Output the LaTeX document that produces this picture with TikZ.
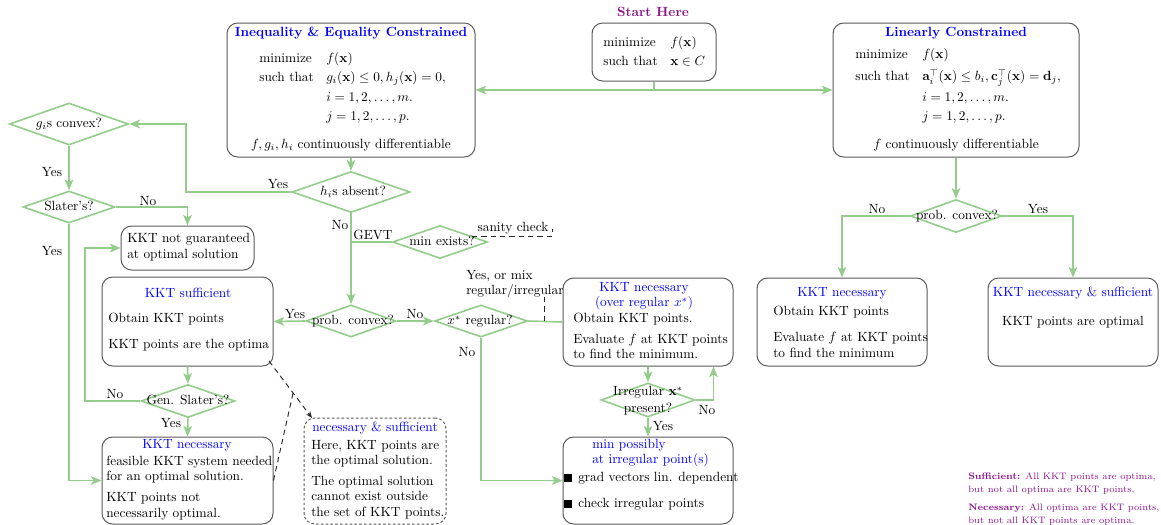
\documentclass[tikz,border=0pt]{standalone}
\usepackage{amsmath,amssymb}
\usetikzlibrary{shapes.geometric,arrows.meta,fit,calc}
\definecolor{lgreen}{RGB}{148,204,140}
\definecolor{leg}{RGB}{140,20,140}
\begin{document}
\begin{tikzpicture}[x=0.75pt,y=-0.75pt,
 box/.style={draw=black!65,line width=0.75pt,rounded corners=8pt,inner sep=0pt},
 dbox/.style={box,dash pattern=on 2pt off 1.6pt},
 dia/.style 2 args={diamond,draw=lgreen,line width=1.2pt,inner sep=0pt,minimum width=#1*0.75pt,minimum height=#2*0.75pt},
 flow/.style={draw=lgreen,line width=1.2pt},
 arr/.style={flow,-{Stealth[length=8pt,width=6.5pt,inset=2pt]}},
 lt/.style={anchor=mid west,inner sep=0pt},
 ct/.style={anchor=mid,inner sep=0pt},
 ttl/.style={ct,text=blue},
 lab/.style={anchor=center,inner sep=0pt},
 dline/.style={draw=black!85,line width=0.7pt,dash pattern=on 4pt off 3pt},
]
\useasboundingbox (0,0) rectangle (1161,525);

% ---- Start
\node[ct,font=\bfseries,text=leg] (sh) at (653,14) {Start Here};
\node[box,fit={(592,23)(716,81)}] (start) {};
\node[lt] (s1) at (603,44) {minimize};
\node[lt] (s2) at (670,44) {$f(\mathbf{x})$};
\node[lt] (s3) at (603,63) {such that};
\node[lt] (s4) at (670,63) {$\mathbf{x}\in C$};

% ---- Inequality box
\node[box,fit={(227,23)(475,157)}] (ineq) {};
\node[ttl,font=\bfseries] (it) at (351,34) {Inequality \& Equality Constrained};
\node[lt] (i1) at (259,60) {minimize};
\node[lt] (i2) at (326,60) {$f(\mathbf{x})$};
\node[lt] (i3) at (259,79) {such that};
\node[lt] (i4) at (326,79) {$g_i(\mathbf{x})\le 0, h_j(\mathbf{x})=0,$};
\node[lt] (i5) at (326,99) {$i=1,2,\ldots,m.$};
\node[lt] (i6) at (326,118) {$j=1,2,\ldots,p.$};
\node[ct] (i7) at (351,146) {$f,g_i,h_i$ continuously differentiable};

% ---- Linear box
\node[box,fit={(833,23)(1079,157)}] (lin) {};
\node[ttl,font=\bfseries] (l0) at (956,34) {Linearly Constrained};
\node[lt] (l1) at (855,56) {minimize};
\node[lt] (l2) at (922,56) {$f(\mathbf{x})$};
\node[lt] (l3) at (855,78) {such that};
\node[lt] (l4) at (922,78) {$\mathbf{a}_i^\top(\mathbf{x})\le b_i,\mathbf{c}_j^\top(\mathbf{x})=\mathbf{d}_j,$};
\node[lt] (l5) at (922,99) {$i=1,2,\ldots,m.$};
\node[lt] (l6) at (922,118) {$j=1,2,\ldots,p.$};
\node[ct] (l7) at (956,146) {$f$ continuously differentiable};

\draw[arr] (start.south) |- (ineq.east);
\draw[arr] (start.south) |- (lin.west);

% ---- Diamonds
\node[dia={119}{42}] (gconv) at (69,124) {};
\node[ct] (gconvT) at (69,125) {$g_i$s convex?};
\node[dia={92}{32}] (slat) at (69,207) {};
\node[ct] (slatT) at (69,208) {Slater's?};
\node[dia={118}{41}] (hab) at (351,192) {};
\node[ct] (habT) at (353,193) {$h_i$s absent?};
\node[dia={95}{33}] (mex) at (440,242) {};
\node[ct] (mexT) at (442,243) {min exists?};
\node[dia={90}{32}] (pconv) at (351,321) {};
\node[ct] (pconvT) at (353,322) {prob. convex?};
\node[dia={93}{32}] (xreg) at (481,321) {};
\node[ct] (xregT) at (480,322) {$x^*$ regular?};
\node[dia={94}{33}] (gsl) at (188,401) {};
\node[ct] (gslT) at (188,402) {Gen. Slater's?};
\node[dia={94}{34}] (irr) at (648,400) {};
\node[ct] (irrT1) at (648,393) {Irregular $\mathbf{x}^*$};
\node[ct] (irrT2) at (648,410) {present?};
\node[dia={91}{33}] (pconv2) at (956,216) {};
\node[ct] (pconv2T) at (957,217) {prob. convex?};

% ---- Boxes
\node[box,fit={(121,226)(254,270)}] (kng) {};
\node[lt] (kng1) at (127,240) {KKT not guaranteed};
\node[lt] (kng2) at (127,256) {at optimal solution};

\node[box,fit={(102,277)(273,366)}] (ksuf) {};
\node[ttl] (ksuf0) at (188,295) {KKT sufficient};
\node[lt] (ksuf1) at (108,320) {Obtain KKT points};
\node[lt] (ksuf2) at (108,346) {KKT points are the optima};

\node[box,fit={(102,437)(273,524)}] (kneL) {};
\node[ttl] (kneL0) at (187,446) {KKT necessary};
\node[lt] (kneL1) at (106,463) {feasible KKT system needed};
\node[lt] (kneL2) at (106,478) {for an optimal solution.};
\node[lt] (kneL3) at (106,499) {KKT points not};
\node[lt] (kneL4) at (106,515) {necessarily optimal.};

\node[dbox,fit={(304,418)(446,524)}] (nsb) {};
\node[ttl] (nsb0) at (375,429) {necessary \& sufficient};
\node[lt] (nsb1) at (311,447) {Here, KKT points are};
\node[lt] (nsb2) at (311,462) {the optimal solution.};
\node[lt] (nsb3) at (311,483) {The optimal solution};
\node[lt] (nsb4) at (311,498) {cannot exist outside};
\node[lt] (nsb5) at (311,514) {the set of KKT points.};

\node[box,fit={(563,278)(733,366)}] (kneR) {};
\node[ttl] (kneR0) at (644,289) {KKT necessary};
\node[ttl] (kneR1) at (644,304) {(over regular $x^*$)};
\node[lt] (kneR2) at (573,320) {Obtain KKT points.};
\node[lt] (kneR3) at (573,341) {Evaluate $f$ at KKT points};
\node[lt] (kneR4) at (573,356) {to find the minimum.};

\node[box,fit={(563,437)(733,524)}] (minp) {};
\node[lt,text=blue] (minp0) at (592,446) {min possibly};
\node[lt,text=blue] (minp1) at (592,461) {at irregular point(s)};
\node[fill=black,minimum size=6pt,inner sep=0pt] (b1) at (568,478) {};
\node[fill=black,minimum size=6pt,inner sep=0pt] (b2) at (568,504) {};
\node[lt] (minp2) at (578,479) {grad vectors lin. dependent};
\node[lt] (minp3) at (578,505) {check irregular points};

\node[box,fit={(757,278)(927,366)}] (kneRR) {};
\node[ttl] (kneRR0) at (842,294) {KKT necessary};
\node[lt] (kneRR1) at (773,313) {Obtain KKT points};
\node[lt] (kneRR2) at (773,339) {Evaluate $f$ at KKT points};
\node[lt] (kneRR3) at (773,355) {to find the minimum};

\node[box,fit={(988,278)(1158,366)}] (kns) {};
\node[ttl] (kns0) at (1073,294) {KKT necessary \& sufficient};
\node[ct] (kns1) at (1073,323) {KKT points are optimal};

% ---- Connectors
\draw[arr] (ineq.south) -- (hab.north);
\draw[arr] (hab.west) -- ++(-105,0) |- (gconv.east);
\node[lab] (y1) at (278,184) {Yes};
\draw[arr] (gconv.south) -- (slat.north);
\node[lab] (y2) at (52,172) {Yes};
\draw[arr] (slat.east) -| (kng.north);
\node[lab] (n1) at (148,201) {No};
\draw[arr] (slat.south) |- (kneL.west);
\node[lab] (y3) at (52,251) {Yes};
\draw[arr] (ksuf.south) -- (gsl.north);
\draw[arr] (gsl.west) -- ++(-55,0) |- (kng.west);
\node[lab] (n2) at (115,394) {No};
\draw[arr] (gsl.south) -- (kneL.north);
\node[lab] (y4) at (171,423) {Yes};

\draw[arr] (hab.south) -- (pconv.north);
\node[lab] (n3) at (340,225) {No};
\draw[flow] (hab.south |- mex.west) -- (mex.west);
\node[lab] (gevt) at (373,235) {GEVT};
\coordinate (sc1) at (472,236);
\coordinate (sc2) at (552,229);
\draw[dline] (sc1) -| (sc2);
\node[lab] (sct) at (513,228) {sanity check};

\draw[arr] (pconv.west) -- (ksuf.east);
\node[lab] (y5) at (295,314) {Yes};
\draw[arr] (pconv.east) -- (xreg.west);
\node[lab] (n4) at (415,314) {No};
\draw[flow] (xreg.east) -- (kneR.west);
\node[lt] (ym1) at (466,277) {Yes, or mix};
\node[lt] (ym2) at (466,292) {regular/irregular};
\coordinate (ymc) at (544,321);
\draw[dline] (ymc) -- ++(0,-24);
\draw[arr] (xreg.south) |- (minp.west);
\node[lab] (n5) at (467,352) {No};

\draw[arr] (kneR.south) -- (irr.north);
\draw[arr] (irr.east) -| ([xshift=-15pt]kneR.south east);
\node[lab] (n6) at (707,410) {No};
\draw[arr] (irr.south) -- (minp.north);
\node[lab] (y6) at (663,426) {Yes};

\draw[arr] (lin.south) -- (pconv2.north);
\draw[arr] (pconv2.west) -| (kneRR.north);
\node[lab] (n7) at (877,209) {No};
\draw[arr] (pconv2.east) -| (kns.north);
\node[lab] (y7) at (1038,209) {Yes};

\coordinate (ds) at (269,361);
\coordinate (de) at (312,418);
\draw[dline,-{Stealth[length=5pt,width=4pt]}] (ds) -- (de);
\draw[dline] (kneL.east) -- ($(ds)!0.56!(de)$);

% ---- Legend
\node[lt,font=\scriptsize,text=leg] (lg1) at (968,477) {\textbf{Sufficient:} All KKT points are optima,};
\node[lt,font=\scriptsize,text=leg] (lg2) at (968,490) {but not all optima are KKT points.};
\node[lt,font=\scriptsize,text=leg] (lg3) at (968,508) {\textbf{Necessary:} All optima are KKT points,};
\node[lt,font=\scriptsize,text=leg] (lg4) at (968,521) {but not all KKT points are optima.};
\end{tikzpicture}
\end{document}
